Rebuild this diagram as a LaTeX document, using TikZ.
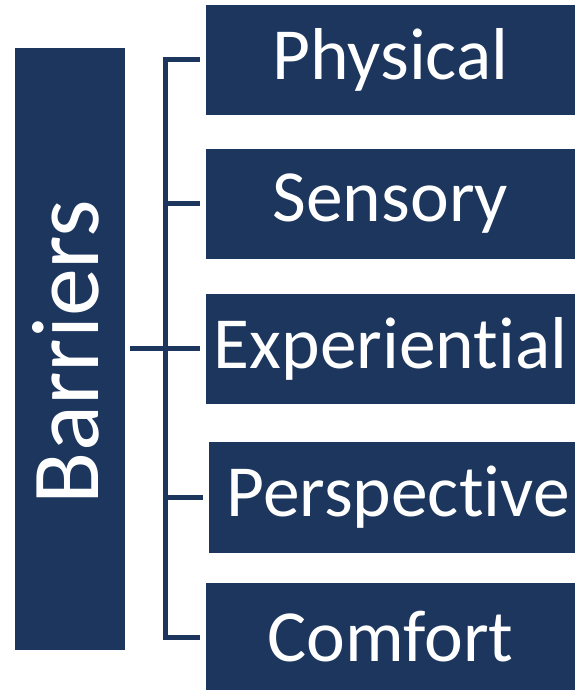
\documentclass[tikz,border=0pt]{standalone}
\usepackage{fontspec}
\setmainfont{Carlito}[Ligatures={NoCommon}]
\definecolor{navy}{RGB}{28,54,94}
\tikzset{
  box/.style={fill=navy, draw=none, inner sep=0pt, text=white, font=\fontsize{73.5}{80}\selectfont, anchor=center},
  conn/.style={draw=navy, line width=5pt, line join=miter, line cap=butt}
}
\begin{document}
\begin{tikzpicture}[x=1pt,y=1pt]
\useasboundingbox (0,0) rectangle (575,690);
\node[box, minimum width=110pt, minimum height=602pt] (bar) at (69.5,341) {};
\node[text=white, font=\fontsize{96}{100}\selectfont, rotate=90, inner sep=0pt] (bartext) at (66,338) {Barriers};
\node[box, minimum width=369pt, minimum height=110pt] (p1) at (390.5,630) {Physical};
\node[box, minimum width=369pt, minimum height=110pt] (p2) at (390.5,486) {Sensory};
\node[box, minimum width=369pt, minimum height=110pt] (p3) at (390.5,341) {Experiential};
\node[box, minimum width=366pt, minimum height=111pt] (p4) at (392,192.5) {\hspace*{12pt}Perspective};
\node[box, minimum width=369pt, minimum height=107pt] (p5) at (390.5,53.5) {Comfort};
\coordinate (spine) at (165,0);
\draw[conn] ([xshift=-6pt]p1.west) -- (p1.west -| spine) -- ([yshift=-1.5pt]p5.west -| spine) -- ([xshift=-6pt,yshift=-1.5pt]p5.west);
\draw[conn] ([xshift=-6pt]p2.west) -- (p2.west -| spine);
\draw[conn] ([xshift=-6pt]p4.west) -- (p4.west -| spine);
\draw[conn] ([xshift=5.5pt]bar.east) -- ([xshift=-6pt]p3.west);
\end{tikzpicture}
\end{document}
